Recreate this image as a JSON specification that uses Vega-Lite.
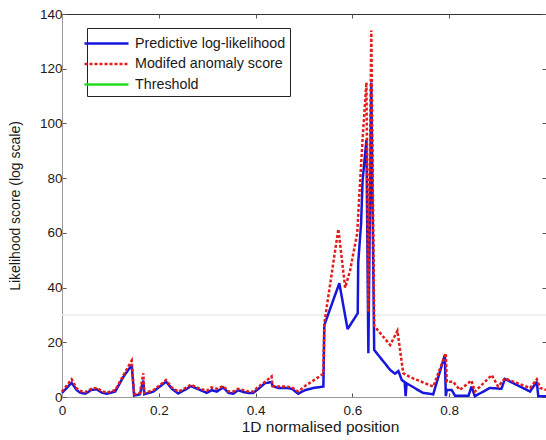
{
  "$schema": "https://vega.github.io/schema/vega-lite/v6.json",
  "width": 484,
  "height": 383,
  "autosize": {"type": "none"},
  "padding": {"left": 62, "top": 14, "right": 0, "bottom": 43},
  "background": "white",
  "config": {
    "view": {"stroke": "#333333", "strokeWidth": 1},
    "font": "Liberation Sans",
    "axis": {
      "grid": false,
      "labelFont": "Liberation Sans",
      "labelFontSize": 13.5,
      "labelColor": "#1a1a1a",
      "titleFont": "Liberation Sans",
      "titleFontSize": 14,
      "titleFontWeight": "normal",
      "titleColor": "#1a1a1a",
      "domainColor": "#999999",
      "tickColor": "#555555",
      "tickSize": -4,
      "labelPadding": 4
    },
    "legend": {
      "orient": "none",
      "legendX": 25,
      "legendY": 14,
      "symbolType": "M-2.2,0H2.2",
      "symbolSize": 400,
      "symbolStrokeWidth": 2.5,
      "symbolOffset": 4,
      "labelFont": "Liberation Sans",
      "labelFontSize": 14.3,
      "labelColor": "#1a1a1a",
      "strokeColor": "#222222",
      "fillColor": "white",
      "padding": 4,
      "rowPadding": 1.5,
      "labelOffset": 17
    }
  },
  "datasets": {
    "lines": [
      {"x": 0, "y": 1.5, "series": "Predictive log-likelihood"},
      {"x": 0.02, "y": 5.2, "series": "Predictive log-likelihood"},
      {"x": 0.03, "y": 2.6, "series": "Predictive log-likelihood"},
      {"x": 0.037, "y": 1.6, "series": "Predictive log-likelihood"},
      {"x": 0.048, "y": 1.2, "series": "Predictive log-likelihood"},
      {"x": 0.061, "y": 2.6, "series": "Predictive log-likelihood"},
      {"x": 0.072, "y": 2.8, "series": "Predictive log-likelihood"},
      {"x": 0.082, "y": 1.6, "series": "Predictive log-likelihood"},
      {"x": 0.092, "y": 1.2, "series": "Predictive log-likelihood"},
      {"x": 0.11, "y": 2.0, "series": "Predictive log-likelihood"},
      {"x": 0.127, "y": 7.4, "series": "Predictive log-likelihood"},
      {"x": 0.144, "y": 11.7, "series": "Predictive log-likelihood"},
      {"x": 0.149, "y": 0.5, "series": "Predictive log-likelihood"},
      {"x": 0.161, "y": 1.0, "series": "Predictive log-likelihood"},
      {"x": 0.168, "y": 6.0, "series": "Predictive log-likelihood"},
      {"x": 0.17, "y": 1.0, "series": "Predictive log-likelihood"},
      {"x": 0.189, "y": 2.0, "series": "Predictive log-likelihood"},
      {"x": 0.202, "y": 3.8, "series": "Predictive log-likelihood"},
      {"x": 0.215, "y": 5.6, "series": "Predictive log-likelihood"},
      {"x": 0.227, "y": 3.0, "series": "Predictive log-likelihood"},
      {"x": 0.24, "y": 1.3, "series": "Predictive log-likelihood"},
      {"x": 0.258, "y": 3.0, "series": "Predictive log-likelihood"},
      {"x": 0.266, "y": 4.0, "series": "Predictive log-likelihood"},
      {"x": 0.285, "y": 2.6, "series": "Predictive log-likelihood"},
      {"x": 0.299, "y": 1.5, "series": "Predictive log-likelihood"},
      {"x": 0.309, "y": 2.5, "series": "Predictive log-likelihood"},
      {"x": 0.32, "y": 2.0, "series": "Predictive log-likelihood"},
      {"x": 0.333, "y": 3.5, "series": "Predictive log-likelihood"},
      {"x": 0.344, "y": 1.5, "series": "Predictive log-likelihood"},
      {"x": 0.354, "y": 1.2, "series": "Predictive log-likelihood"},
      {"x": 0.364, "y": 2.5, "series": "Predictive log-likelihood"},
      {"x": 0.375, "y": 1.8, "series": "Predictive log-likelihood"},
      {"x": 0.385, "y": 1.5, "series": "Predictive log-likelihood"},
      {"x": 0.395, "y": 1.5, "series": "Predictive log-likelihood"},
      {"x": 0.406, "y": 3.0, "series": "Predictive log-likelihood"},
      {"x": 0.419, "y": 5.0, "series": "Predictive log-likelihood"},
      {"x": 0.433, "y": 5.5, "series": "Predictive log-likelihood"},
      {"x": 0.435, "y": 4.0, "series": "Predictive log-likelihood"},
      {"x": 0.447, "y": 3.3, "series": "Predictive log-likelihood"},
      {"x": 0.464, "y": 3.3, "series": "Predictive log-likelihood"},
      {"x": 0.475, "y": 3.0, "series": "Predictive log-likelihood"},
      {"x": 0.488, "y": 1.2, "series": "Predictive log-likelihood"},
      {"x": 0.502, "y": 2.5, "series": "Predictive log-likelihood"},
      {"x": 0.519, "y": 3.3, "series": "Predictive log-likelihood"},
      {"x": 0.54, "y": 3.8, "series": "Predictive log-likelihood"},
      {"x": 0.542, "y": 26.3, "series": "Predictive log-likelihood"},
      {"x": 0.573, "y": 41.6, "series": "Predictive log-likelihood"},
      {"x": 0.59, "y": 24.8, "series": "Predictive log-likelihood"},
      {"x": 0.611, "y": 30.6, "series": "Predictive log-likelihood"},
      {"x": 0.612, "y": 49, "series": "Predictive log-likelihood"},
      {"x": 0.618, "y": 63.6, "series": "Predictive log-likelihood"},
      {"x": 0.621, "y": 79, "series": "Predictive log-likelihood"},
      {"x": 0.629, "y": 94, "series": "Predictive log-likelihood"},
      {"x": 0.633, "y": 16, "series": "Predictive log-likelihood"},
      {"x": 0.639, "y": 115, "series": "Predictive log-likelihood"},
      {"x": 0.645, "y": 17.2, "series": "Predictive log-likelihood"},
      {"x": 0.678, "y": 9.9, "series": "Predictive log-likelihood"},
      {"x": 0.688, "y": 8.5, "series": "Predictive log-likelihood"},
      {"x": 0.695, "y": 9.5, "series": "Predictive log-likelihood"},
      {"x": 0.702, "y": 6.2, "series": "Predictive log-likelihood"},
      {"x": 0.708, "y": 5.5, "series": "Predictive log-likelihood"},
      {"x": 0.71, "y": 0.3, "series": "Predictive log-likelihood"},
      {"x": 0.712, "y": 5.0, "series": "Predictive log-likelihood"},
      {"x": 0.746, "y": 1.5, "series": "Predictive log-likelihood"},
      {"x": 0.767, "y": 1.0, "series": "Predictive log-likelihood"},
      {"x": 0.791, "y": 15.4, "series": "Predictive log-likelihood"},
      {"x": 0.793, "y": 0.3, "series": "Predictive log-likelihood"},
      {"x": 0.795, "y": 2.6, "series": "Predictive log-likelihood"},
      {"x": 0.805, "y": 2.6, "series": "Predictive log-likelihood"},
      {"x": 0.812, "y": 0.5, "series": "Predictive log-likelihood"},
      {"x": 0.84, "y": 0.5, "series": "Predictive log-likelihood"},
      {"x": 0.846, "y": 3.8, "series": "Predictive log-likelihood"},
      {"x": 0.853, "y": 0.3, "series": "Predictive log-likelihood"},
      {"x": 0.884, "y": 3.3, "series": "Predictive log-likelihood"},
      {"x": 0.908, "y": 3.0, "series": "Predictive log-likelihood"},
      {"x": 0.915, "y": 6.6, "series": "Predictive log-likelihood"},
      {"x": 0.967, "y": 2.0, "series": "Predictive log-likelihood"},
      {"x": 0.981, "y": 5.6, "series": "Predictive log-likelihood"},
      {"x": 0.984, "y": 0.3, "series": "Predictive log-likelihood"},
      {"x": 1.0, "y": 0.3, "series": "Predictive log-likelihood"},
      {"x": 0, "y": 2.0, "series": "Modifed anomaly score"},
      {"x": 0.02, "y": 6.5, "series": "Modifed anomaly score"},
      {"x": 0.03, "y": 3.2, "series": "Modifed anomaly score"},
      {"x": 0.037, "y": 2.2, "series": "Modifed anomaly score"},
      {"x": 0.048, "y": 1.8, "series": "Modifed anomaly score"},
      {"x": 0.061, "y": 3.0, "series": "Modifed anomaly score"},
      {"x": 0.072, "y": 3.3, "series": "Modifed anomaly score"},
      {"x": 0.082, "y": 2.2, "series": "Modifed anomaly score"},
      {"x": 0.092, "y": 1.6, "series": "Modifed anomaly score"},
      {"x": 0.11, "y": 2.5, "series": "Modifed anomaly score"},
      {"x": 0.127, "y": 8.0, "series": "Modifed anomaly score"},
      {"x": 0.144, "y": 13.3, "series": "Modifed anomaly score"},
      {"x": 0.149, "y": 1.0, "series": "Modifed anomaly score"},
      {"x": 0.161, "y": 1.5, "series": "Modifed anomaly score"},
      {"x": 0.168, "y": 8.7, "series": "Modifed anomaly score"},
      {"x": 0.17, "y": 1.5, "series": "Modifed anomaly score"},
      {"x": 0.189, "y": 2.5, "series": "Modifed anomaly score"},
      {"x": 0.202, "y": 4.3, "series": "Modifed anomaly score"},
      {"x": 0.215, "y": 6.2, "series": "Modifed anomaly score"},
      {"x": 0.227, "y": 3.5, "series": "Modifed anomaly score"},
      {"x": 0.24, "y": 2.0, "series": "Modifed anomaly score"},
      {"x": 0.258, "y": 3.5, "series": "Modifed anomaly score"},
      {"x": 0.266, "y": 4.5, "series": "Modifed anomaly score"},
      {"x": 0.285, "y": 3.0, "series": "Modifed anomaly score"},
      {"x": 0.299, "y": 2.3, "series": "Modifed anomaly score"},
      {"x": 0.309, "y": 3.5, "series": "Modifed anomaly score"},
      {"x": 0.32, "y": 3.0, "series": "Modifed anomaly score"},
      {"x": 0.333, "y": 4.0, "series": "Modifed anomaly score"},
      {"x": 0.344, "y": 2.0, "series": "Modifed anomaly score"},
      {"x": 0.354, "y": 2.0, "series": "Modifed anomaly score"},
      {"x": 0.364, "y": 3.0, "series": "Modifed anomaly score"},
      {"x": 0.375, "y": 2.5, "series": "Modifed anomaly score"},
      {"x": 0.385, "y": 2.0, "series": "Modifed anomaly score"},
      {"x": 0.395, "y": 2.0, "series": "Modifed anomaly score"},
      {"x": 0.406, "y": 3.8, "series": "Modifed anomaly score"},
      {"x": 0.419, "y": 5.5, "series": "Modifed anomaly score"},
      {"x": 0.433, "y": 7.5, "series": "Modifed anomaly score"},
      {"x": 0.435, "y": 4.0, "series": "Modifed anomaly score"},
      {"x": 0.447, "y": 3.8, "series": "Modifed anomaly score"},
      {"x": 0.464, "y": 3.8, "series": "Modifed anomaly score"},
      {"x": 0.475, "y": 3.5, "series": "Modifed anomaly score"},
      {"x": 0.488, "y": 2.0, "series": "Modifed anomaly score"},
      {"x": 0.502, "y": 4.0, "series": "Modifed anomaly score"},
      {"x": 0.519, "y": 6.0, "series": "Modifed anomaly score"},
      {"x": 0.54, "y": 8.5, "series": "Modifed anomaly score"},
      {"x": 0.542, "y": 27, "series": "Modifed anomaly score"},
      {"x": 0.571, "y": 61.4, "series": "Modifed anomaly score"},
      {"x": 0.585, "y": 40, "series": "Modifed anomaly score"},
      {"x": 0.595, "y": 46, "series": "Modifed anomaly score"},
      {"x": 0.61, "y": 60, "series": "Modifed anomaly score"},
      {"x": 0.614, "y": 73, "series": "Modifed anomaly score"},
      {"x": 0.621, "y": 94, "series": "Modifed anomaly score"},
      {"x": 0.629, "y": 115, "series": "Modifed anomaly score"},
      {"x": 0.633, "y": 31, "series": "Modifed anomaly score"},
      {"x": 0.639, "y": 134, "series": "Modifed anomaly score"},
      {"x": 0.645, "y": 26, "series": "Modifed anomaly score"},
      {"x": 0.678, "y": 19, "series": "Modifed anomaly score"},
      {"x": 0.693, "y": 24.2, "series": "Modifed anomaly score"},
      {"x": 0.705, "y": 8.7, "series": "Modifed anomaly score"},
      {"x": 0.719, "y": 7.3, "series": "Modifed anomaly score"},
      {"x": 0.767, "y": 3.8, "series": "Modifed anomaly score"},
      {"x": 0.793, "y": 16, "series": "Modifed anomaly score"},
      {"x": 0.795, "y": 5.6, "series": "Modifed anomaly score"},
      {"x": 0.808, "y": 5.6, "series": "Modifed anomaly score"},
      {"x": 0.822, "y": 2.6, "series": "Modifed anomaly score"},
      {"x": 0.846, "y": 6.0, "series": "Modifed anomaly score"},
      {"x": 0.853, "y": 2.0, "series": "Modifed anomaly score"},
      {"x": 0.888, "y": 8.0, "series": "Modifed anomaly score"},
      {"x": 0.901, "y": 3.8, "series": "Modifed anomaly score"},
      {"x": 0.915, "y": 6.8, "series": "Modifed anomaly score"},
      {"x": 0.967, "y": 3.3, "series": "Modifed anomaly score"},
      {"x": 0.981, "y": 6.5, "series": "Modifed anomaly score"},
      {"x": 0.988, "y": 3.3, "series": "Modifed anomaly score"},
      {"x": 1.0, "y": 2.6, "series": "Modifed anomaly score"}
    ],
    "thr": [{"y": 30, "series": "Threshold"}]
  },
  "resolve": {"axis": {"x": "independent", "y": "independent"}},
  "layer": [
    {
      "data": {"name": "thr"},
      "mark": {"type": "rule", "color": "#ebedeb", "strokeWidth": 1.5},
      "encoding": {
        "y": {"field": "y", "type": "quantitative", "scale": {"domain": [0, 140], "nice": false},
          "axis": {"orient": "right", "title": null, "labels": false, "domain": false, "values": [0, 20, 40, 60, 80, 100, 120, 140]}}
      }
    },
    {
      "data": {"name": "lines"},
      "transform": [{"filter": "datum.series === 'Predictive log-likelihood'"}],
      "mark": {"type": "line", "strokeWidth": 2.5, "strokeJoin": "miter", "strokeMiterLimit": 2},
      "encoding": {
        "x": {"field": "x", "type": "quantitative", "scale": {"domain": [0, 1], "nice": false},
          "axis": {"orient": "bottom", "title": "1D normalised position", "titleFontSize": 15.5, "values": [0, 0.2, 0.4, 0.6, 0.8, 1], "format": "~g", "labelExpr": "datum.value >= 1 ? '' : datum.label", "labelFlush": false, "labelPadding": 10, "titlePadding": 3, "titleX": 258}},
        "y": {"field": "y", "type": "quantitative", "scale": {"domain": [0, 140], "nice": false},
          "axis": {"orient": "left", "title": "Likelihood score (log scale)", "values": [0, 20, 40, 60, 80, 100, 120, 140], "titlePadding": 17}},
        "color": {"field": "series", "type": "nominal", "title": null,
          "scale": {"domain": ["Predictive log-likelihood", "Modifed anomaly score", "Threshold"], "range": ["#1616dc", "#e31c1c", "#22dd22"]}},
        "strokeDash": {"field": "series", "type": "nominal", "title": null,
          "scale": {"domain": ["Predictive log-likelihood", "Modifed anomaly score", "Threshold"], "range": [[1, 0], [3, 2], [1, 0]]}}
      }
    },
    {
      "data": {"name": "lines"},
      "transform": [{"filter": "datum.series === 'Modifed anomaly score'"}],
      "mark": {"type": "line", "strokeWidth": 2.5},
      "encoding": {
        "x": {"field": "x", "type": "quantitative", "scale": {"domain": [0, 1], "nice": false},
          "axis": {"orient": "top", "title": null, "labels": false, "domain": false, "values": [0, 0.2, 0.4, 0.6, 0.8, 1]}},
        "y": {"field": "y", "type": "quantitative", "scale": {"domain": [0, 140], "nice": false}, "axis": null},
        "color": {"field": "series", "type": "nominal", "title": null,
          "scale": {"domain": ["Predictive log-likelihood", "Modifed anomaly score", "Threshold"], "range": ["#1616dc", "#e31c1c", "#22dd22"]}},
        "strokeDash": {"field": "series", "type": "nominal", "title": null,
          "scale": {"domain": ["Predictive log-likelihood", "Modifed anomaly score", "Threshold"], "range": [[1, 0], [3, 2], [1, 0]]}}
      }
    }
  ]
}
